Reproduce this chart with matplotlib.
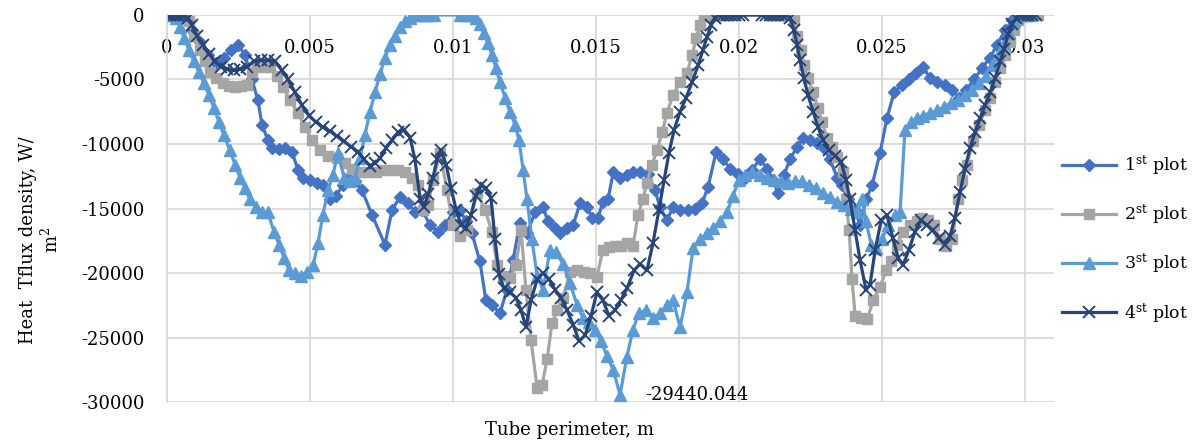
import matplotlib
matplotlib.use('Agg')
import matplotlib.pyplot as plt

plt.rcParams['font.family'] = ['DejaVu Serif']
plt.rcParams['mathtext.fontset'] = 'dejavuserif'
plt.rcParams['axes.unicode_minus'] = False

# 1st plot
x1 = [0, 0.0001, 0.0002, 0.0003, 0.0004, 0.0005, 0.00066, 0.00087, 0.00115, 0.00143,
      0.0017, 0.002, 0.00224, 0.00248, 0.00273, 0.00297, 0.00318, 0.00332, 0.00353, 0.00367,
      0.00392, 0.00413, 0.00437, 0.00458, 0.00476, 0.005, 0.00524, 0.00545, 0.0057, 0.00591,
      0.00615, 0.00633, 0.00657, 0.00682, 0.00717, 0.00762, 0.00787, 0.00815, 0.00843, 0.00867,
      0.00892, 0.0092, 0.00948, 0.00972, 0.01, 0.01025, 0.01045, 0.01066, 0.01094, 0.01115,
      0.01136, 0.01164, 0.01189, 0.0121, 0.01234, 0.01259, 0.01287, 0.01315, 0.01332, 0.01357,
      0.01374, 0.01399, 0.0142, 0.01444, 0.01469, 0.01486, 0.01507, 0.01524, 0.01542, 0.0156,
      0.01584, 0.01608, 0.01629, 0.01654, 0.01682, 0.01706, 0.01724, 0.01748, 0.01769, 0.01794,
      0.01822, 0.01846, 0.01871, 0.01892, 0.0192, 0.01944, 0.01969, 0.01997, 0.02021, 0.02045,
      0.02073, 0.02098, 0.02119, 0.02136, 0.02157, 0.02178, 0.02203, 0.02224, 0.02248, 0.02273,
      0.02294, 0.02318, 0.02343, 0.0236, 0.02381, 0.02406, 0.02423, 0.02444, 0.02465, 0.02493,
      0.02517, 0.02542, 0.0257, 0.02594, 0.02619, 0.02643, 0.02668, 0.02692, 0.0272, 0.02745,
      0.02769, 0.02794, 0.02822, 0.0285, 0.02878, 0.02902, 0.0293, 0.02955, 0.02976, 0.0299,
      0.03004, 0.03018, 0.03032]
y1 = [0, 0, 0, 0, 0, 0, -400, -1200, -2100, -3100,
      -3700, -3300, -2700, -2300, -3100, -5000, -6600, -8500, -9700, -10300,
      -10400, -10300, -10600, -12000, -12600, -12800, -13000, -13200, -14300, -14000,
      -13200, -12600, -12900, -13600, -15500, -17800, -15100, -14100, -14600, -15300,
      -15100, -16300, -16800, -16300, -15300, -15100, -16000, -16900, -19100, -22100,
      -22500, -23100, -21300, -19000, -16100, -16900, -15300, -14900, -16000, -16500,
      -16900, -16500, -16300, -14600, -14900, -15700, -15700, -14500, -14300, -12200,
      -12600, -12400, -12200, -12200, -12300, -13600, -14900, -15900, -14900, -15100,
      -15100, -15000, -14600, -13300, -10600, -11200, -11900, -12300, -12600, -12000,
      -11200, -11900, -12800, -13800, -12400, -11200, -10200, -9500, -9700, -9900,
      -10200, -11200, -12600, -13200, -14300, -15100, -16300, -14300, -13200, -10700,
      -8000, -6000, -5400, -5000, -4500, -4000, -4900, -5200, -5400, -5800,
      -6400, -5800, -5000, -4100, -3300, -2300, -1200, -400, 0, 0,
      0, 0, 0]

# 2nd plot
x2 = [0, 0.0001, 0.0002, 0.0003, 0.0004, 0.0005, 0.0006, 0.00077, 0.00094, 0.00115,
      0.00133, 0.0015, 0.0017, 0.00196, 0.00217, 0.00238, 0.00259, 0.0028, 0.00297, 0.00315,
      0.00339, 0.0036, 0.00385, 0.00406, 0.0043, 0.00458, 0.00483, 0.00507, 0.00535, 0.00563,
      0.00594, 0.00622, 0.00647, 0.00675, 0.00703, 0.00731, 0.00755, 0.0078, 0.00808, 0.00832,
      0.00857, 0.00878, 0.00895, 0.00913, 0.0093, 0.00955, 0.00979, 0.01, 0.01024, 0.01049,
      0.01084, 0.01112, 0.01136, 0.01154, 0.01175, 0.01199, 0.0122, 0.01238, 0.01255, 0.01273,
      0.01294, 0.01311, 0.01329, 0.01346, 0.01364, 0.01385, 0.01409, 0.01434, 0.01458, 0.01479,
      0.01503, 0.01524, 0.01545, 0.01566, 0.01587, 0.01608, 0.01629, 0.01647, 0.01664, 0.01678,
      0.01696, 0.01713, 0.01731, 0.01748, 0.01769, 0.01794, 0.01818, 0.01836, 0.0185, 0.01864,
      0.01878, 0.01892, 0.01906, 0.0192, 0.01934, 0.01948, 0.01962, 0.02108, 0.02122, 0.02136,
      0.0215, 0.02164, 0.02178, 0.02192, 0.02203, 0.02217, 0.02227, 0.02241, 0.02259, 0.02276,
      0.0229, 0.02308, 0.02325, 0.02343, 0.02364, 0.02374, 0.02385, 0.02395, 0.02406, 0.02427,
      0.02448, 0.02469, 0.02493, 0.02514, 0.02532, 0.02552, 0.02573, 0.02598, 0.02622, 0.0264,
      0.02661, 0.02682, 0.02703, 0.02724, 0.02745, 0.02766, 0.0278, 0.02797, 0.02818, 0.02839,
      0.0286, 0.02878, 0.02895, 0.02913, 0.0293, 0.02948, 0.02962, 0.02976, 0.0299, 0.03004,
      0.03018, 0.03032, 0.03046]
y2 = [0, 0, 0, 0, 0, 0, 0, -500, -1600, -2700,
      -3600, -4400, -4900, -5300, -5500, -5600, -5500, -5400, -4400, -4000,
      -4000, -4000, -4700, -5600, -6600, -7600, -8700, -9700, -10500, -10900,
      -11100, -11500, -11900, -12200, -12200, -12200, -12000, -12000, -12000, -12200,
      -12600, -13200, -15100, -14700, -12800, -10700, -13600, -16300, -17100, -16700,
      -13800, -15100, -16800, -19400, -20200, -20400, -19400, -16700, -21300, -25200,
      -28900, -28700, -26700, -23900, -22900, -21900, -19900, -19800, -19900, -20000,
      -20300, -18200, -18000, -17900, -17900, -17700, -17900, -15500, -14300, -13000,
      -11600, -10500, -9100, -7600, -6200, -5200, -4500, -3100, -1800, -800,
      -100, 0, 0, 0, 0, 0, 0, 0, 0, 0,
      0, 0, 0, -400, -1600, -2700, -3900, -4900, -6000, -7200,
      -8300, -9500, -10200, -11000, -12200, -14300, -16700, -20500, -23300, -23500,
      -23600, -22100, -21100, -19800, -19100, -17800, -16800, -16300, -16000, -15700,
      -15900, -16300, -17400, -17900, -17400, -14300, -12800, -11600, -9800, -8500,
      -7400, -6400, -5200, -4100, -3100, -2100, -1200, -400, 0, 0,
      0, 0, 0]

# 3rd plot
x3 = [0, 0.0001, 0.0002, 0.0003, 0.00045, 0.0006, 0.00077, 0.00094, 0.00112, 0.00129,
      0.00147, 0.00164, 0.00182, 0.00199, 0.0022, 0.00238, 0.00255, 0.00273, 0.0029, 0.00311,
      0.00332, 0.00353, 0.00374, 0.00392, 0.00409, 0.00427, 0.00448, 0.00469, 0.0049, 0.00511,
      0.00528, 0.00545, 0.00563, 0.0058, 0.00598, 0.00619, 0.0064, 0.00657, 0.00675, 0.00692,
      0.0071, 0.00727, 0.00745, 0.00762, 0.0078, 0.00797, 0.00815, 0.00832, 0.0085, 0.00864,
      0.00878, 0.00892, 0.00906, 0.0092, 0.00934, 0.01024, 0.01038, 0.01052, 0.01066, 0.0108,
      0.01094, 0.01108, 0.01122, 0.01136, 0.0115, 0.01164, 0.01182, 0.01199, 0.01217, 0.01231,
      0.01245, 0.01259, 0.01276, 0.01294, 0.01315, 0.01339, 0.0136, 0.01385, 0.01409, 0.01434,
      0.01455, 0.01476, 0.01497, 0.01517, 0.01538, 0.0156, 0.01584, 0.01608, 0.01629, 0.0165,
      0.01675, 0.01699, 0.01724, 0.01748, 0.01769, 0.01794, 0.01818, 0.01839, 0.01864, 0.01888,
      0.01909, 0.01934, 0.01958, 0.01979, 0.02, 0.02021, 0.02045, 0.02073, 0.02098, 0.02122,
      0.02147, 0.02171, 0.02196, 0.0222, 0.02245, 0.02269, 0.02294, 0.02318, 0.02343, 0.02367,
      0.02392, 0.02413, 0.0243, 0.02444, 0.02462, 0.02479, 0.025, 0.02521, 0.02545, 0.02563,
      0.0258, 0.02601, 0.02622, 0.02643, 0.02668, 0.02692, 0.02717, 0.02741, 0.02766, 0.0279,
      0.02815, 0.02839, 0.02864, 0.02885, 0.02906, 0.02927, 0.02944, 0.02962, 0.02976, 0.0299,
      0.03004, 0.03018]
y3 = [0, 0, 0, -200, -900, -1800, -2700, -3600, -4400, -5300,
      -6200, -7200, -8300, -9300, -10500, -11600, -12600, -13400, -14300, -14900,
      -15300, -15300, -16800, -17800, -18800, -19800, -20000, -20200, -19900, -19400,
      -17700, -15500, -13600, -12400, -10700, -12600, -12900, -12600, -11100, -9300,
      -7500, -6000, -4600, -3300, -2300, -1600, -900, -500, -200, 0,
      0, 0, 0, 0, 0, 0, 0, 0, 0, -200,
      -700, -1400, -2200, -3100, -4100, -5200, -6400, -7500, -8500, -9700,
      -12000, -14300, -17400, -20200, -21300, -18200, -18400, -19300, -20800, -22500,
      -23500, -23800, -24400, -25300, -26400, -27500, -29440.044, -26500, -24400, -23100,
      -22900, -23500, -23100, -22500, -22100, -24200, -21500, -18100, -17400, -16900,
      -16500, -16000, -15300, -14000, -12800, -12400, -12200, -12400, -12600, -12800,
      -12900, -13000, -12900, -12900, -13200, -13400, -13800, -14100, -14500, -14700,
      -15000, -15300, -14300, -16000, -17800, -18100, -17400, -16300, -15500, -15300,
      -8900, -8300, -8000, -7800, -7600, -7400, -7100, -6800, -6600, -6200,
      -5800, -5300, -4700, -3900, -3100, -2200, -1400, -500, 0, 0,
      0, 0]

# 4th plot
x4 = [0, 0.0001, 0.0002, 0.0003, 0.0004, 0.0005, 0.0006, 0.00073, 0.00087, 0.00105,
      0.00126, 0.00147, 0.00168, 0.00189, 0.0021, 0.00234, 0.00255, 0.0028, 0.00304, 0.00329,
      0.00353, 0.00378, 0.00402, 0.00423, 0.00448, 0.00472, 0.00497, 0.00521, 0.00545, 0.0057,
      0.00594, 0.00619, 0.00643, 0.00668, 0.00689, 0.0071, 0.00727, 0.00745, 0.00766, 0.00787,
      0.00808, 0.00829, 0.0085, 0.00867, 0.00885, 0.00899, 0.00913, 0.0093, 0.00944, 0.00958,
      0.00976, 0.00993, 0.01011, 0.01028, 0.01045, 0.01063, 0.0108, 0.01098, 0.01115, 0.01133,
      0.01147, 0.01161, 0.01178, 0.01199, 0.0122, 0.01238, 0.01255, 0.01273, 0.01294, 0.01315,
      0.01336, 0.01357, 0.01378, 0.01399, 0.0142, 0.01441, 0.01462, 0.01483, 0.01503, 0.01524,
      0.01545, 0.01566, 0.01587, 0.01608, 0.01633, 0.01654, 0.01678, 0.01699, 0.0172, 0.01738,
      0.01755, 0.01773, 0.01794, 0.01815, 0.01836, 0.01857, 0.01874, 0.01888, 0.01902, 0.01916,
      0.0193, 0.01944, 0.01958, 0.01972, 0.01986, 0.02, 0.02014, 0.0208, 0.02094, 0.02108,
      0.02122, 0.02136, 0.0215, 0.02164, 0.02178, 0.02192, 0.02203, 0.02213, 0.02227, 0.02241,
      0.02259, 0.02276, 0.02294, 0.02315, 0.02336, 0.02357, 0.02374, 0.02388, 0.02406, 0.02423,
      0.02444, 0.02458, 0.02476, 0.02497, 0.02517, 0.02538, 0.02556, 0.02573, 0.02594, 0.02615,
      0.02636, 0.02657, 0.02678, 0.02699, 0.0272, 0.02738, 0.02755, 0.02773, 0.0279, 0.02808,
      0.02825, 0.02843, 0.0286, 0.02878, 0.02895, 0.02913, 0.02927, 0.02941, 0.02955, 0.02969,
      0.02983, 0.02997, 0.03011, 0.03025, 0.03039]
y4 = [0, 0, 0, 0, 0, 0, 0, -200, -800, -1600,
      -2300, -3000, -3600, -4000, -4200, -4300, -4200, -4000, -3600, -3500,
      -3500, -3600, -4300, -5000, -6000, -7000, -7800, -8300, -8700, -9000,
      -9400, -9800, -10200, -10600, -11200, -11700, -11500, -11100, -10300, -9700,
      -9100, -8900, -9500, -11200, -14300, -14900, -13900, -12600, -11200, -10500,
      -11600, -13400, -15100, -16300, -16500, -15500, -14000, -13200, -13400, -14200,
      -17400, -20100, -21200, -21500, -21900, -22900, -24200, -22100, -20500, -20000,
      -20500, -21300, -21900, -22900, -24000, -25300, -24800, -23300, -21500, -22100,
      -23300, -22900, -22100, -21200, -19800, -19300, -19800, -17700, -15100, -12800,
      -10700, -8900, -7500, -6400, -5200, -3900, -2700, -1700, -800, -200,
      0, 0, 0, 0, 0, 0, 0, 0, 0, 0,
      0, 0, 0, 0, -200, -1200, -2300, -3500, -4900, -6200,
      -7500, -8700, -9700, -10500, -10900, -11400, -12800, -14300, -16700, -19000,
      -21300, -20900, -18200, -15900, -15500, -17300, -18800, -19400, -18200, -16800,
      -15900, -16300, -16700, -17300, -17800, -17100, -15700, -13700, -11900, -10300,
      -9100, -8000, -7000, -6000, -4900, -3600, -2600, -1500, -700, -200,
      0, 0, 0, 0, 0]

labels = [r'1$^{\mathrm{st}}$ plot', r'2$^{\mathrm{st}}$ plot',
          r'3$^{\mathrm{st}}$ plot', r'4$^{\mathrm{st}}$ plot']
xticks = [0, 0.005, 0.01, 0.015, 0.02, 0.025, 0.03]
xtick_labels = ['0', '0.005', '0.01', '0.015', '0.02', '0.025', '0.03']
yticks = [0, -5000, -10000, -15000, -20000, -25000, -30000]
min_label = '-29440.044'

fig = plt.figure(figsize=(11.96, 4.45), dpi=100)
ax = fig.add_axes([0.1396, 0.0966, 0.7414, 0.8697])

ax.plot(x1, y1, color='#4472C4', lw=2.3, marker='D', ms=6.5, label=labels[0])
ax.plot(x2, y2, color='#A5A5A5', lw=2.3, marker='s', ms=7.5, label=labels[1])
ax.plot(x3, y3, color='#5B9BD5', lw=2.3, marker='^', ms=8, label=labels[2])
ax.plot(x4, y4, color='#264478', lw=2.3, marker='x', ms=8, mew=1.4, label=labels[3])

ax.set_xlim(0, 0.031)
ax.set_ylim(-30000, 0)
ax.set_xticks(xticks)
ax.set_xticklabels(xtick_labels)
ax.set_yticks(yticks)
ax.set_yticklabels([str(v) for v in yticks])
ax.grid(True, color='#D9D9D9', lw=1.3)
ax.set_axisbelow(True)
for s in ['top', 'right', 'bottom']:
    ax.spines[s].set_visible(False)
ax.spines['left'].set_color('#D9D9D9')
ax.spines['left'].set_linewidth(1.3)
ax.tick_params(axis='x', bottom=False, labelbottom=False, top=False, labeltop=True,
               pad=-34, labelsize=13)
ax.tick_params(axis='y', length=0, pad=16, labelsize=13)

# data label at the minimum of 3rd plot
i_min = y3.index(min(y3))
ax.annotate(min_label, xy=(x3[i_min], y3[i_min]), xytext=(25, 0),
            textcoords='offset pixels', ha='left', va='center', fontsize=13)

fig.text(0.034, 0.46, 'Heat  Tflux density, W/\nm$^2$', rotation=90,
         ha='center', va='center', multialignment='center', fontsize=13)
fig.text(0.476, 0.034, 'Tube perimeter, m', ha='center', va='center', fontsize=13)

ax.legend(loc='center left', bbox_to_anchor=(1055 / 1196, 0.463),
          bbox_transform=fig.transFigure, frameon=False, fontsize=12.5,
          handlelength=3.1, handletextpad=0.5, labelspacing=1.45, borderaxespad=0)

fig.savefig('out.png', dpi=100, facecolor='white')
